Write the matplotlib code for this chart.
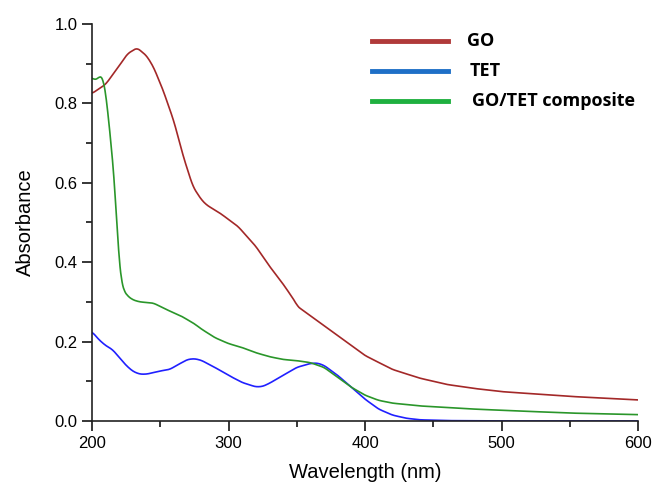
import numpy as np
import matplotlib.pyplot as plt
from matplotlib.ticker import MultipleLocator

# GO spectrum
go_x = [200, 210, 220, 226, 233, 240, 245, 252, 260, 267, 274, 280, 284, 294, 307,
        320, 330, 340, 347, 349, 350, 360, 370, 380, 390, 400, 420, 440, 460, 480,
        500, 550, 600]
go_y = [0.825, 0.848, 0.895, 0.925, 0.94, 0.92, 0.892, 0.834, 0.755, 0.665, 0.59,
        0.558, 0.544, 0.523, 0.49, 0.44, 0.39, 0.345, 0.31, 0.30, 0.29, 0.265, 0.24,
        0.215, 0.19, 0.165, 0.13, 0.108, 0.092, 0.082, 0.074, 0.062, 0.053]

# TET spectrum
tet_x = [200, 205, 210, 215, 220, 225, 230, 235, 240, 245, 250, 257, 262, 270, 275,
         280, 290, 300, 310, 320, 325, 330, 340, 350, 360, 365, 370, 380, 390, 400,
         410, 420, 430, 440, 460, 500, 600]
tet_y = [0.225, 0.205, 0.19, 0.18, 0.16, 0.14, 0.125, 0.118, 0.118, 0.122, 0.126,
         0.13, 0.14, 0.155, 0.157, 0.153, 0.135, 0.115, 0.097, 0.086, 0.087, 0.095,
         0.115, 0.135, 0.145, 0.146, 0.14, 0.115, 0.085, 0.055, 0.03, 0.015, 0.007,
         0.003, 0.001, 0.0, 0.0]

# GO/TET composite spectrum
comp_x = [200, 202, 204, 206, 208, 209, 211, 213, 215, 217, 219, 221, 223, 226, 230,
          235, 245, 255, 265, 275, 280, 290, 300, 310, 320, 330, 340, 350, 360, 370,
          380, 390, 400, 410, 420, 440, 460, 480, 500, 550, 600]
comp_y = [0.865, 0.858, 0.862, 0.87, 0.866, 0.85, 0.80, 0.73, 0.66, 0.58, 0.44, 0.36,
          0.33, 0.315, 0.305, 0.30, 0.297, 0.28, 0.265, 0.245, 0.232, 0.21, 0.195,
          0.185, 0.172, 0.162, 0.155, 0.152, 0.147, 0.135, 0.11, 0.085, 0.065, 0.052,
          0.045, 0.038, 0.034, 0.030, 0.027, 0.020, 0.016]

labels = ["GO", "TET", "GO/TET composite"]
legend_colors = ["#b03a3a", "#1e6fc7", "#1fb03f"]


def smooth(xs, ys):
    x = np.linspace(xs[0], xs[-1], 800)
    y = np.interp(x, xs, ys)
    k = np.ones(9) / 9
    yp = np.pad(y, 4, mode="edge")
    return x, np.convolve(yp, k, mode="valid")


plt.rcParams['font.family'] = ['Liberation Sans', 'DejaVu Sans']

fig = plt.figure(figsize=(6.55, 4.86), dpi=100)
ax = fig.add_axes([92 / 655, 1 - 421 / 486, 546 / 655, 397 / 486])

ax.plot(*smooth(go_x, go_y), color="#a32828", lw=1.2)
ax.plot(*smooth(tet_x, tet_y), color="#2020ff", lw=1.2)
ax.plot(*smooth(comp_x, comp_y), color="#2a962a", lw=1.2)

ax.set_xlim(200, 600)
ax.set_ylim(0, 1.0)
ax.xaxis.set_major_locator(MultipleLocator(100))
ax.xaxis.set_minor_locator(MultipleLocator(50))
ax.yaxis.set_major_locator(MultipleLocator(0.2))
ax.yaxis.set_minor_locator(MultipleLocator(0.1))
ax.yaxis.set_major_formatter(plt.FormatStrFormatter('%.1f'))
ax.tick_params(which='major', direction='out', length=7, width=1.1, labelsize=12)
ax.tick_params(which='minor', direction='out', length=4, width=1.1)
for s in ['top', 'right']:
    ax.spines[s].set_visible(False)
for s in ['left', 'bottom']:
    ax.spines[s].set_linewidth(1.2)
    ax.spines[s].set_color('#222222')

ax.set_xlabel("Wavelength (nm)", fontsize=14.5, labelpad=9)
ax.set_ylabel("Absorbance", fontsize=14.5, labelpad=14)

# custom legend
ly = [41, 71, 101]
lx_text = [467, 470, 472]
for lab, c, y, tx in zip(labels, legend_colors, ly, lx_text):
    fig.add_artist(plt.Line2D([372 / 655, 448 / 655], [1 - y / 486] * 2,
                              color=c, lw=3.5, transform=fig.transFigure))
    fig.text(tx / 655, 1 - y / 486, lab, fontsize=13, fontweight='bold',
             va='center', ha='left', family=['Open Sans', 'DejaVu Sans'])

fig.savefig("out.png", dpi=100)
